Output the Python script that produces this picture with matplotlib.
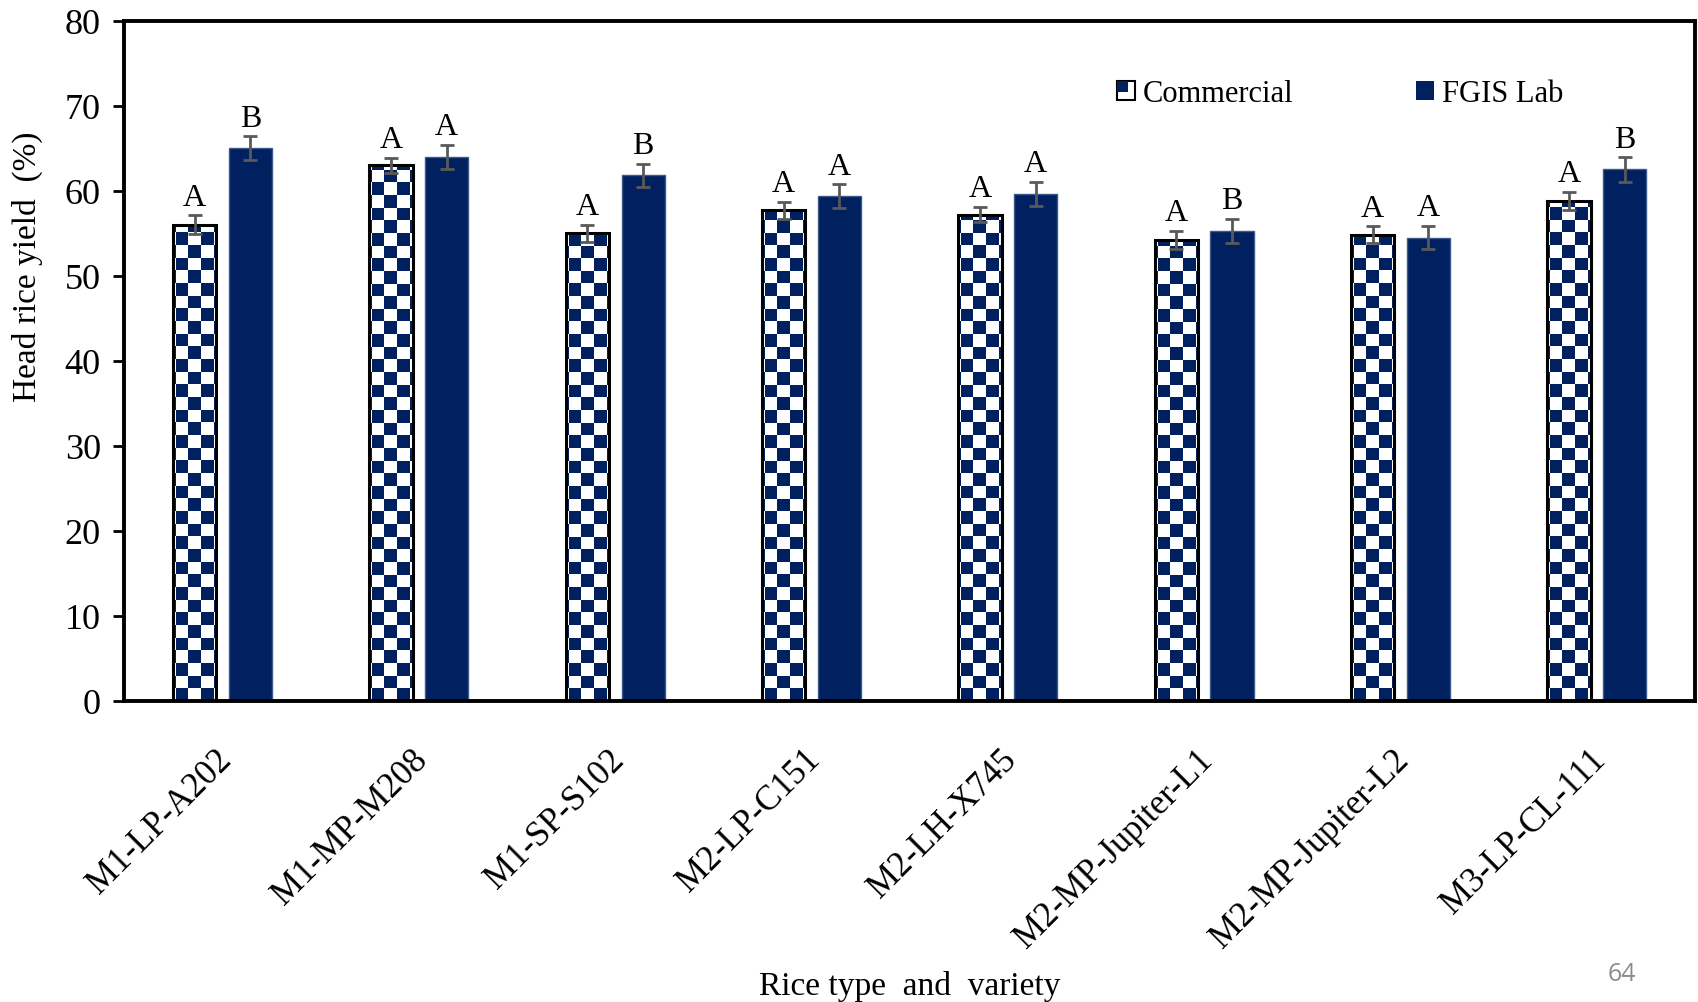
import matplotlib
matplotlib.use("Agg")
import matplotlib.pyplot as plt
import matplotlib.transforms as mtransforms
import numpy as np
from matplotlib.colors import ListedColormap
from matplotlib.patches import Rectangle

# Head rice yield per rice type / variety, commercial mill vs FGIS lab
varieties = ["M1-LP-A202", "M1-MP-M208", "M1-SP-S102", "M2-LP-C151",
             "M2-LH-X745", "M2-MP-Jupiter-L1", "M2-MP-Jupiter-L2", "M3-LP-CL-111"]
commercial = [56.0, 63.0, 55.0, 57.7, 57.2, 54.2, 54.8, 58.8]
commercial_err = [1.1, 0.9, 1.0, 1.0, 0.9, 1.1, 1.0, 1.1]
fgis = [65.0, 64.0, 61.8, 59.4, 59.6, 55.3, 54.5, 62.5]
fgis_err = [1.4, 1.4, 1.4, 1.4, 1.45, 1.4, 1.4, 1.45]
commercial_letters = ["A", "A", "A", "A", "A", "A", "A", "A"]
fgis_letters = ["B", "A", "B", "A", "A", "B", "A", "B"]

NAVY = "#002060"
ERR = "#595959"

plt.rcParams["font.family"] = ["Liberation Serif", "DejaVu Serif"]

fig = plt.figure(figsize=(16.98, 10.03), dpi=100)
ax = fig.add_axes([0.0733, 0.3001, 0.9249, 0.6783])

x = np.arange(len(varieties)) + 0.5
offset = 0.142
width = 0.22

# Commercial bars: white base, checker image clipped to each bar, black outline on top
com_bars = ax.bar(x - offset, commercial, width, color="white", edgecolor="none", zorder=2)

# checker square size in data units (~12.6 px)
dx = 0.0644
dy = 1.487
checker_cmap = ListedColormap(["white", NAVY])
for bar in com_bars:
    left = bar.get_x() - 0.8 * dx
    nc = int(np.ceil((bar.get_width() + dx) / dx)) + 1
    nr = int(np.ceil(bar.get_height() / dy)) + 1
    jj, ii = np.indices((nr, nc))
    board = (ii + jj) % 2
    im = ax.imshow(board, cmap=checker_cmap, origin="lower", interpolation="nearest",
                   extent=(left, left + nc * dx, 0, nr * dy), aspect="auto", zorder=2.5)
    im.set_clip_path(bar)

ax.bar(x - offset, commercial, width, fill=False, edgecolor="black", linewidth=2.2, zorder=3)

ax.bar(x + offset, fgis, width, color=NAVY, edgecolor="#3d5a8c", linewidth=1.0, zorder=2)

ax.errorbar(x - offset, commercial, yerr=commercial_err, fmt="none", ecolor=ERR,
            elinewidth=2, capsize=5, capthick=2, zorder=4)
ax.errorbar(x + offset, fgis, yerr=fgis_err, fmt="none", ecolor=ERR,
            elinewidth=2, capsize=5, capthick=2, zorder=4)

for xi, v, e, lab in zip(x - offset, commercial, commercial_err, commercial_letters):
    ax.annotate(lab, (xi, v + e), xytext=(0, 7.5), textcoords="offset points",
                ha="center", va="baseline", fontsize=23)
for xi, v, e, lab in zip(x + offset, fgis, fgis_err, fgis_letters):
    ax.annotate(lab, (xi, v + e), xytext=(0, 7.5), textcoords="offset points",
                ha="center", va="baseline", fontsize=23)

ax.set_xlim(0, len(varieties))
ax.set_ylim(0, 80)
ax.set_yticks(np.arange(0, 81, 10))
ax.set_xticks(x)
ax.set_xticklabels(varieties, rotation=45, ha="right", va="top", rotation_mode="anchor")
ax.tick_params(axis="x", length=0, pad=30, labelsize=25)
ax.tick_params(axis="y", direction="out", length=8, width=2, pad=9, labelsize=26)
# nudge the slanted labels a little to the left
shift = mtransforms.ScaledTranslation(-0.08, 0, fig.dpi_scale_trans)
for lbl in ax.get_xticklabels():
    lbl.set_transform(lbl.get_transform() + shift)
for sp in ax.spines.values():
    sp.set_linewidth(2.8)

ax.set_ylabel("Head rice yield  (%)", fontsize=24)
ax.yaxis.set_label_coords(-0.052, 0.64)
ax.set_xlabel("Rice type  and  variety", fontsize=24)
ax.xaxis.set_label_coords(0.5, -0.395)


class CheckerHandler:
    def legend_artist(self, legend, orig_handle, fontsize, handlebox):
        x0, y0 = -handlebox.xdescent, -handlebox.ydescent
        w, h = handlebox.width, handlebox.height
        tr = handlebox.get_transform()
        base = Rectangle((x0, y0), w, h, facecolor="white", edgecolor="black",
                         linewidth=1.5, transform=tr)
        q1 = Rectangle((x0, y0 + h * 0.4), w * 0.6, h * 0.6, facecolor=NAVY,
                       edgecolor="none", transform=tr)
        handlebox.add_artist(base)
        handlebox.add_artist(q1)
        return base


com_handle = Rectangle((0, 0), 1, 1)
fgis_handle = Rectangle((0, 0), 1, 1, facecolor=NAVY, edgecolor="none")
ax.legend([com_handle, fgis_handle], ["Commercial", "FGIS Lab"], ncol=2,
          loc="upper left", bbox_to_anchor=(0.632, 0.914), frameon=False,
          fontsize=22, handlelength=0.6, handleheight=0.6, handletextpad=0.25,
          columnspacing=4.0, borderpad=0, borderaxespad=0,
          handler_map={com_handle: CheckerHandler()})

fig.text(0.955, 0.028, "64", fontsize=18, color="#8c8c8c",
         family=["Open Sans", "DejaVu Sans"], ha="center", va="center")

fig.savefig("out.png", dpi=100)
